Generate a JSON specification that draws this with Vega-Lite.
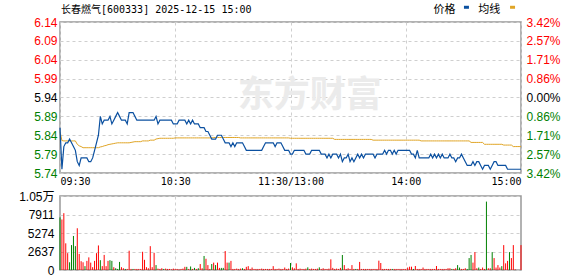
{
  "$schema": "https://vega.github.io/schema/vega-lite/v6.json",
  "background": "white",
  "padding": {"left": 17, "top": 2, "right": 0, "bottom": 0},
  "spacing": 23,
  "bounds": "flush",
  "config": {
    "font": "Liberation Sans",
    "view": {"stroke": "#999999", "strokeWidth": 1.5},
    "axis": {"gridColor": "#cfcfcf", "gridDash": [3, 3], "gridWidth": 1, "domain": false, "ticks": false, "title": null, "labelFont": "Liberation Sans", "labelFontSize": 12, "labelColor": "#000000"}
  },
  "datasets": {
    "m": [
{"t":0,"p":5.86,"a":5.85,"v":7500,"c":"d"},
{"t":1,"p":5.75,"a":5.826,"v":7200,"c":"u"},
{"t":2,"p":5.81,"a":5.825,"v":8100,"c":"u"},
{"t":3,"p":5.82,"a":5.825,"v":3800,"c":"u"},
{"t":4,"p":5.82,"a":5.825,"v":2400,"c":"u"},
{"t":5,"p":5.83,"a":5.825,"v":1100,"c":"d"},
{"t":6,"p":5.82,"a":5.825,"v":3550,"c":"d"},
{"t":7,"p":5.81,"a":5.825,"v":4850,"c":"d"},
{"t":8,"p":5.80,"a":5.825,"v":3400,"c":"d"},
{"t":9,"p":5.77,"a":5.816,"v":5950,"c":"u"},
{"t":10,"p":5.76,"a":5.812,"v":2300,"c":"u"},
{"t":11,"p":5.78,"a":5.810,"v":1250,"c":"u"},
{"t":12,"p":5.78,"a":5.807,"v":1100,"c":"u"},
{"t":13,"p":5.78,"a":5.807,"v":550,"c":"d"},
{"t":14,"p":5.78,"a":5.807,"v":1300,"c":"u"},
{"t":15,"p":5.77,"a":5.807,"v":1800,"c":"u"},
{"t":16,"p":5.77,"a":5.807,"v":1050,"c":"u"},
{"t":17,"p":5.78,"a":5.807,"v":400,"c":"u"},
{"t":18,"p":5.80,"a":5.807,"v":1300,"c":"u"},
{"t":19,"p":5.82,"a":5.807,"v":2400,"c":"u"},
{"t":20,"p":5.84,"a":5.807,"v":3500,"c":"u"},
{"t":21,"p":5.89,"a":5.809,"v":1400,"c":"d"},
{"t":22,"p":5.87,"a":5.810,"v":550,"c":"u"},
{"t":23,"p":5.88,"a":5.812,"v":2150,"c":"u"},
{"t":24,"p":5.88,"a":5.813,"v":550,"c":"u"},
{"t":25,"p":5.88,"a":5.815,"v":1300,"c":"u"},
{"t":26,"p":5.89,"a":5.816,"v":1400,"c":"d"},
{"t":27,"p":5.87,"a":5.817,"v":1300,"c":"d"},
{"t":28,"p":5.88,"a":5.818,"v":400,"c":"u"},
{"t":29,"p":5.89,"a":5.819,"v":250,"c":"d"},
{"t":30,"p":5.90,"a":5.820,"v":150,"c":"d"},
{"t":31,"p":5.89,"a":5.820,"v":1150,"c":"d"},
{"t":32,"p":5.88,"a":5.820,"v":400,"c":"u"},
{"t":33,"p":5.88,"a":5.820,"v":250,"c":"u"},
{"t":34,"p":5.88,"a":5.820,"v":150,"c":"d"},
{"t":35,"p":5.87,"a":5.820,"v":150,"c":"u"},
{"t":36,"p":5.90,"a":5.820,"v":2750,"c":"u"},
{"t":37,"p":5.90,"a":5.821,"v":150,"c":"u"},
{"t":38,"p":5.90,"a":5.822,"v":150,"c":"d"},
{"t":39,"p":5.89,"a":5.823,"v":150,"c":"u"},
{"t":40,"p":5.88,"a":5.823,"v":150,"c":"u"},
{"t":41,"p":5.88,"a":5.823,"v":150,"c":"u"},
{"t":42,"p":5.88,"a":5.823,"v":150,"c":"u"},
{"t":43,"p":5.88,"a":5.825,"v":2600,"c":"u"},
{"t":44,"p":5.88,"a":5.825,"v":1450,"c":"u"},
{"t":45,"p":5.88,"a":5.825,"v":400,"c":"u"},
{"t":46,"p":5.88,"a":5.825,"v":250,"c":"u"},
{"t":47,"p":5.88,"a":5.827,"v":3400,"c":"u"},
{"t":48,"p":5.88,"a":5.827,"v":400,"c":"u"},
{"t":49,"p":5.88,"a":5.827,"v":2450,"c":"u"},
{"t":50,"p":5.89,"a":5.830,"v":700,"c":"d"},
{"t":51,"p":5.87,"a":5.831,"v":200,"c":"u"},
{"t":52,"p":5.88,"a":5.832,"v":150,"c":"u"},
{"t":53,"p":5.88,"a":5.832,"v":250,"c":"u"},
{"t":54,"p":5.88,"a":5.832,"v":150,"c":"d"},
{"t":55,"p":5.88,"a":5.832,"v":200,"c":"u"},
{"t":56,"p":5.88,"a":5.832,"v":150,"c":"u"},
{"t":57,"p":5.88,"a":5.832,"v":150,"c":"u"},
{"t":58,"p":5.88,"a":5.832,"v":100,"c":"u"},
{"t":59,"p":5.87,"a":5.832,"v":200,"c":"u"},
{"t":60,"p":5.87,"a":5.833,"v":150,"c":"u"},
{"t":61,"p":5.87,"a":5.833,"v":150,"c":"u"},
{"t":62,"p":5.88,"a":5.833,"v":100,"c":"u"},
{"t":63,"p":5.88,"a":5.833,"v":150,"c":"u"},
{"t":64,"p":5.88,"a":5.833,"v":200,"c":"u"},
{"t":65,"p":5.88,"a":5.833,"v":450,"c":"u"},
{"t":66,"p":5.87,"a":5.833,"v":450,"c":"d"},
{"t":67,"p":5.88,"a":5.833,"v":150,"c":"u"},
{"t":68,"p":5.87,"a":5.833,"v":500,"c":"d"},
{"t":69,"p":5.88,"a":5.833,"v":150,"c":"u"},
{"t":70,"p":5.87,"a":5.833,"v":300,"c":"d"},
{"t":71,"p":5.87,"a":5.833,"v":150,"c":"u"},
{"t":72,"p":5.87,"a":5.833,"v":250,"c":"d"},
{"t":73,"p":5.86,"a":5.833,"v":850,"c":"u"},
{"t":74,"p":5.86,"a":5.833,"v":250,"c":"u"},
{"t":75,"p":5.86,"a":5.833,"v":2000,"c":"d"},
{"t":76,"p":5.85,"a":5.833,"v":1600,"c":"u"},
{"t":77,"p":5.85,"a":5.833,"v":700,"c":"u"},
{"t":78,"p":5.84,"a":5.833,"v":150,"c":"u"},
{"t":79,"p":5.83,"a":5.833,"v":850,"c":"d"},
{"t":80,"p":5.83,"a":5.834,"v":1050,"c":"u"},
{"t":81,"p":5.83,"a":5.834,"v":700,"c":"d"},
{"t":82,"p":5.84,"a":5.834,"v":1050,"c":"u"},
{"t":83,"p":5.84,"a":5.834,"v":300,"c":"u"},
{"t":84,"p":5.84,"a":5.834,"v":300,"c":"d"},
{"t":85,"p":5.83,"a":5.834,"v":300,"c":"d"},
{"t":86,"p":5.82,"a":5.834,"v":2700,"c":"u"},
{"t":87,"p":5.82,"a":5.834,"v":1050,"c":"u"},
{"t":88,"p":5.82,"a":5.834,"v":1050,"c":"d"},
{"t":89,"p":5.81,"a":5.834,"v":1300,"c":"u"},
{"t":90,"p":5.82,"a":5.834,"v":150,"c":"u"},
{"t":91,"p":5.81,"a":5.834,"v":150,"c":"u"},
{"t":92,"p":5.82,"a":5.834,"v":200,"c":"u"},
{"t":93,"p":5.82,"a":5.834,"v":150,"c":"u"},
{"t":94,"p":5.82,"a":5.833,"v":200,"c":"u"},
{"t":95,"p":5.82,"a":5.833,"v":250,"c":"d"},
{"t":96,"p":5.81,"a":5.833,"v":150,"c":"u"},
{"t":97,"p":5.80,"a":5.833,"v":450,"c":"u"},
{"t":98,"p":5.80,"a":5.833,"v":550,"c":"u"},
{"t":99,"p":5.80,"a":5.833,"v":150,"c":"u"},
{"t":100,"p":5.80,"a":5.833,"v":350,"c":"u"},
{"t":101,"p":5.80,"a":5.833,"v":150,"c":"u"},
{"t":102,"p":5.80,"a":5.833,"v":150,"c":"u"},
{"t":103,"p":5.80,"a":5.833,"v":150,"c":"u"},
{"t":104,"p":5.80,"a":5.833,"v":150,"c":"u"},
{"t":105,"p":5.80,"a":5.833,"v":200,"c":"u"},
{"t":106,"p":5.81,"a":5.833,"v":150,"c":"u"},
{"t":107,"p":5.82,"a":5.833,"v":150,"c":"u"},
{"t":108,"p":5.82,"a":5.833,"v":150,"c":"u"},
{"t":109,"p":5.82,"a":5.833,"v":150,"c":"u"},
{"t":110,"p":5.82,"a":5.833,"v":150,"c":"u"},
{"t":111,"p":5.82,"a":5.833,"v":550,"c":"u"},
{"t":112,"p":5.81,"a":5.833,"v":150,"c":"u"},
{"t":113,"p":5.82,"a":5.833,"v":150,"c":"u"},
{"t":114,"p":5.82,"a":5.833,"v":200,"c":"u"},
{"t":115,"p":5.82,"a":5.833,"v":150,"c":"u"},
{"t":116,"p":5.81,"a":5.833,"v":150,"c":"u"},
{"t":117,"p":5.80,"a":5.833,"v":350,"c":"u"},
{"t":118,"p":5.80,"a":5.833,"v":150,"c":"u"},
{"t":119,"p":5.80,"a":5.833,"v":200,"c":"u"},
{"t":120,"p":5.79,"a":5.832,"v":1000,"c":"d"},
{"t":121,"p":5.79,"a":5.832,"v":380,"c":"u"},
{"t":122,"p":5.80,"a":5.832,"v":240,"c":"u"},
{"t":123,"p":5.80,"a":5.832,"v":950,"c":"u"},
{"t":124,"p":5.80,"a":5.832,"v":150,"c":"u"},
{"t":125,"p":5.80,"a":5.832,"v":200,"c":"u"},
{"t":126,"p":5.80,"a":5.832,"v":150,"c":"u"},
{"t":127,"p":5.80,"a":5.832,"v":150,"c":"u"},
{"t":128,"p":5.79,"a":5.832,"v":200,"c":"u"},
{"t":129,"p":5.79,"a":5.832,"v":380,"c":"d"},
{"t":130,"p":5.79,"a":5.832,"v":150,"c":"u"},
{"t":131,"p":5.80,"a":5.832,"v":200,"c":"u"},
{"t":132,"p":5.80,"a":5.832,"v":150,"c":"u"},
{"t":133,"p":5.80,"a":5.832,"v":150,"c":"u"},
{"t":134,"p":5.80,"a":5.832,"v":200,"c":"u"},
{"t":135,"p":5.80,"a":5.832,"v":380,"c":"d"},
{"t":136,"p":5.79,"a":5.832,"v":150,"c":"u"},
{"t":137,"p":5.79,"a":5.832,"v":250,"c":"u"},
{"t":138,"p":5.79,"a":5.832,"v":150,"c":"u"},
{"t":139,"p":5.78,"a":5.832,"v":150,"c":"u"},
{"t":140,"p":5.79,"a":5.832,"v":200,"c":"u"},
{"t":141,"p":5.78,"a":5.832,"v":1520,"c":"u"},
{"t":142,"p":5.79,"a":5.832,"v":300,"c":"u"},
{"t":143,"p":5.79,"a":5.829,"v":150,"c":"u"},
{"t":144,"p":5.79,"a":5.829,"v":200,"c":"u"},
{"t":145,"p":5.78,"a":5.829,"v":150,"c":"u"},
{"t":146,"p":5.79,"a":5.829,"v":300,"c":"u"},
{"t":147,"p":5.77,"a":5.829,"v":2140,"c":"d"},
{"t":148,"p":5.78,"a":5.829,"v":700,"c":"u"},
{"t":149,"p":5.78,"a":5.829,"v":150,"c":"u"},
{"t":150,"p":5.79,"a":5.829,"v":250,"c":"u"},
{"t":151,"p":5.77,"a":5.829,"v":150,"c":"u"},
{"t":152,"p":5.78,"a":5.829,"v":700,"c":"u"},
{"t":153,"p":5.77,"a":5.829,"v":150,"c":"u"},
{"t":154,"p":5.78,"a":5.829,"v":150,"c":"d"},
{"t":155,"p":5.79,"a":5.829,"v":150,"c":"u"},
{"t":156,"p":5.78,"a":5.829,"v":1150,"c":"u"},
{"t":157,"p":5.79,"a":5.829,"v":150,"c":"u"},
{"t":158,"p":5.78,"a":5.829,"v":150,"c":"u"},
{"t":159,"p":5.79,"a":5.829,"v":150,"c":"u"},
{"t":160,"p":5.79,"a":5.829,"v":150,"c":"u"},
{"t":161,"p":5.79,"a":5.829,"v":150,"c":"u"},
{"t":162,"p":5.79,"a":5.829,"v":150,"c":"u"},
{"t":163,"p":5.79,"a":5.827,"v":150,"c":"u"},
{"t":164,"p":5.78,"a":5.827,"v":150,"c":"u"},
{"t":165,"p":5.79,"a":5.827,"v":150,"c":"u"},
{"t":166,"p":5.79,"a":5.827,"v":1330,"c":"u"},
{"t":167,"p":5.79,"a":5.827,"v":1000,"c":"u"},
{"t":168,"p":5.79,"a":5.827,"v":150,"c":"u"},
{"t":169,"p":5.80,"a":5.827,"v":150,"c":"u"},
{"t":170,"p":5.79,"a":5.827,"v":150,"c":"u"},
{"t":171,"p":5.80,"a":5.827,"v":150,"c":"u"},
{"t":172,"p":5.80,"a":5.827,"v":150,"c":"u"},
{"t":173,"p":5.79,"a":5.827,"v":150,"c":"d"},
{"t":174,"p":5.80,"a":5.827,"v":150,"c":"u"},
{"t":175,"p":5.79,"a":5.827,"v":150,"c":"u"},
{"t":176,"p":5.80,"a":5.827,"v":150,"c":"u"},
{"t":177,"p":5.80,"a":5.827,"v":150,"c":"u"},
{"t":178,"p":5.80,"a":5.827,"v":150,"c":"u"},
{"t":179,"p":5.80,"a":5.827,"v":150,"c":"u"},
{"t":180,"p":5.80,"a":5.827,"v":150,"c":"u"},
{"t":181,"p":5.80,"a":5.827,"v":350,"c":"u"},
{"t":182,"p":5.80,"a":5.827,"v":470,"c":"u"},
{"t":183,"p":5.79,"a":5.827,"v":470,"c":"u"},
{"t":184,"p":5.79,"a":5.827,"v":150,"c":"d"},
{"t":185,"p":5.78,"a":5.827,"v":570,"c":"u"},
{"t":186,"p":5.80,"a":5.827,"v":150,"c":"u"},
{"t":187,"p":5.78,"a":5.827,"v":150,"c":"u"},
{"t":188,"p":5.78,"a":5.825,"v":150,"c":"u"},
{"t":189,"p":5.78,"a":5.825,"v":350,"c":"u"},
{"t":190,"p":5.78,"a":5.825,"v":150,"c":"u"},
{"t":191,"p":5.78,"a":5.825,"v":150,"c":"u"},
{"t":192,"p":5.78,"a":5.825,"v":150,"c":"u"},
{"t":193,"p":5.79,"a":5.825,"v":150,"c":"u"},
{"t":194,"p":5.78,"a":5.825,"v":150,"c":"u"},
{"t":195,"p":5.79,"a":5.825,"v":150,"c":"u"},
{"t":196,"p":5.78,"a":5.825,"v":570,"c":"u"},
{"t":197,"p":5.79,"a":5.825,"v":150,"c":"u"},
{"t":198,"p":5.78,"a":5.825,"v":150,"c":"u"},
{"t":199,"p":5.79,"a":5.825,"v":150,"c":"u"},
{"t":200,"p":5.78,"a":5.825,"v":150,"c":"u"},
{"t":201,"p":5.78,"a":5.825,"v":150,"c":"u"},
{"t":202,"p":5.78,"a":5.825,"v":250,"c":"u"},
{"t":203,"p":5.79,"a":5.825,"v":250,"c":"u"},
{"t":204,"p":5.78,"a":5.825,"v":150,"c":"d"},
{"t":205,"p":5.78,"a":5.825,"v":150,"c":"u"},
{"t":206,"p":5.77,"a":5.825,"v":250,"c":"u"},
{"t":207,"p":5.78,"a":5.825,"v":700,"c":"d"},
{"t":208,"p":5.78,"a":5.825,"v":350,"c":"d"},
{"t":209,"p":5.79,"a":5.825,"v":150,"c":"u"},
{"t":210,"p":5.78,"a":5.825,"v":150,"c":"u"},
{"t":211,"p":5.77,"a":5.825,"v":250,"c":"u"},
{"t":212,"p":5.76,"a":5.825,"v":150,"c":"d"},
{"t":213,"p":5.76,"a":5.825,"v":1700,"c":"d"},
{"t":214,"p":5.76,"a":5.821,"v":2140,"c":"d"},
{"t":215,"p":5.77,"a":5.821,"v":1050,"c":"u"},
{"t":216,"p":5.76,"a":5.821,"v":2550,"c":"u"},
{"t":217,"p":5.77,"a":5.821,"v":250,"c":"u"},
{"t":218,"p":5.77,"a":5.821,"v":350,"c":"d"},
{"t":219,"p":5.76,"a":5.821,"v":150,"c":"u"},
{"t":220,"p":5.75,"a":5.821,"v":350,"c":"u"},
{"t":221,"p":5.76,"a":5.816,"v":150,"c":"u"},
{"t":222,"p":5.76,"a":5.816,"v":9750,"c":"d"},
{"t":223,"p":5.76,"a":5.816,"v":250,"c":"u"},
{"t":224,"p":5.75,"a":5.816,"v":250,"c":"u"},
{"t":225,"p":5.76,"a":5.816,"v":2550,"c":"d"},
{"t":226,"p":5.77,"a":5.816,"v":1700,"c":"u"},
{"t":227,"p":5.77,"a":5.816,"v":350,"c":"u"},
{"t":228,"p":5.76,"a":5.816,"v":700,"c":"u"},
{"t":229,"p":5.76,"a":5.816,"v":350,"c":"u"},
{"t":230,"p":5.76,"a":5.816,"v":550,"c":"d"},
{"t":231,"p":5.76,"a":5.814,"v":3550,"c":"u"},
{"t":232,"p":5.76,"a":5.814,"v":950,"c":"u"},
{"t":233,"p":5.75,"a":5.814,"v":1300,"c":"u"},
{"t":234,"p":5.75,"a":5.814,"v":2550,"c":"d"},
{"t":235,"p":5.75,"a":5.814,"v":1700,"c":"u"},
{"t":236,"p":5.75,"a":5.810,"v":3550,"c":"u"},
{"t":237,"p":5.75,"a":5.810,"v":100,"c":"u"},
{"t":238,"p":5.75,"a":5.810,"v":0,"c":"u"},
{"t":239,"p":5.75,"a":5.810,"v":0,"c":"u"},
{"t":240,"p":5.75,"a":5.810,"v":3550,"c":"u"}
    ],
    "wm": [{"label": "东方财富"}],
    "lg": [
      {"series": "价格", "x0": 194.4, "x1": 210.3, "x2": 212.9},
      {"series": "均线", "x0": 217.8, "x1": 234.3, "x2": 236.9}
    ]
  },
  "resolve": {"scale": {"color": "independent", "x": "independent", "y": "independent"}},
  "vconcat": [
    {
      "width": 461,
      "height": 151,
      "title": {"text": "长春燃气[600333] 2025-12-15 15:00", "anchor": "start", "frame": "group", "font": "DejaVu Sans Mono, Noto Sans CJK SC", "fontSize": 10, "fontWeight": "normal", "color": "#000000", "offset": -19.8, "baseline": "alphabetic", "dx": 1},
      "layer": [
        {
          "data": {"name": "wm"},
          "mark": {"type": "text", "font": "Noto Sans CJK SC", "fontSize": 36, "fontWeight": "bold", "color": "#ebebeb", "baseline": "middle", "align": "center"},
          "encoding": {
            "text": {"field": "label"},
            "x": {"datum": 130, "type": "quantitative", "scale": {"domain": [0, 240], "nice": false, "zero": false}, "axis": {"values": [0, 60, 120, 180, 240], "labelExpr": "['09:30','10:30','11:30/13:00','14:00','15:00'][round(datum.value/60)]", "labelFlush": true, "grid": true, "labelFont": "DejaVu Sans Mono", "labelFontSize": 10, "labelPadding": 3}},
            "y": {"datum": 5.944, "type": "quantitative", "scale": {"domain": [5.74, 6.14], "nice": false, "zero": false}, "axis": null}
          }
        },
        {
          "data": {"name": "m"},
          "mark": {"type": "line", "strokeWidth": 1, "interpolate": "linear", "color": "#e0a526"},
          "encoding": {
            "x": {"field": "t", "type": "quantitative", "scale": {"domain": [0, 240], "nice": false, "zero": false}, "axis": {"values": [0, 60, 120, 180, 240], "labelExpr": "['09:30','10:30','11:30/13:00','14:00','15:00'][round(datum.value/60)]", "labelFlush": true, "grid": true, "labelFont": "DejaVu Sans Mono", "labelFontSize": 10, "labelPadding": 3}},
            "y": {"field": "a", "type": "quantitative", "scale": {"domain": [5.74, 6.14], "nice": false, "zero": false}, "axis": {"orient": "right", "values": [5.74, 5.79, 5.84, 5.89, 5.94, 5.99, 6.04, 6.09, 6.14], "labelExpr": "['3.42','2.57','1.71','0.86','0.00','0.86','1.71','2.57','3.42'][round((6.14-datum.value)/0.05)] + '%'", "labelPadding": 5, "grid": false, "labelColor": {"condition": [{"test": "datum.value > 5.945", "value": "#ff0000"}, {"test": "datum.value < 5.935", "value": "#008000"}], "value": "#000000"}}}
          }
        },
        {
          "data": {"name": "m"},
          "mark": {"type": "line", "strokeWidth": 1.2, "interpolate": "linear", "color": "#0b50a0"},
          "encoding": {
            "x": {"field": "t", "type": "quantitative", "scale": {"domain": [0, 240], "nice": false, "zero": false}, "axis": {"values": [0, 60, 120, 180, 240], "labelExpr": "['09:30','10:30','11:30/13:00','14:00','15:00'][round(datum.value/60)]", "labelFlush": true, "grid": true, "labelFont": "DejaVu Sans Mono", "labelFontSize": 10, "labelPadding": 3}},
            "y": {"field": "p", "type": "quantitative", "scale": {"domain": [5.74, 6.14], "nice": false, "zero": false}, "axis": {"orient": "left", "values": [5.74, 5.79, 5.84, 5.89, 5.94, 5.99, 6.04, 6.09, 6.14], "format": ".2f", "labelPadding": 3, "grid": true, "labelColor": {"condition": [{"test": "datum.value > 5.945", "value": "#ff0000"}, {"test": "datum.value < 5.935", "value": "#008000"}], "value": "#000000"}}}
          }
        },
        {
          "data": {"name": "lg"},
          "mark": {"type": "text", "font": "Noto Sans CJK SC", "fontSize": 11, "align": "left", "baseline": "middle", "color": "#000000"},
          "encoding": {
            "text": {"field": "series"},
            "x": {"field": "x0", "type": "quantitative", "scale": {"domain": [0, 240], "nice": false, "zero": false}},
            "y": {"datum": 6.173, "type": "quantitative", "scale": {"domain": [5.74, 6.14], "nice": false, "zero": false}, "axis": null}
          }
        },
        {
          "data": {"name": "lg"},
          "mark": {"type": "rule", "strokeWidth": 3},
          "encoding": {
            "x": {"field": "x1", "type": "quantitative", "scale": {"domain": [0, 240], "nice": false, "zero": false}},
            "x2": {"field": "x2"},
            "y": {"datum": 6.179, "type": "quantitative", "scale": {"domain": [5.74, 6.14], "nice": false, "zero": false}, "axis": null},
            "color": {"field": "series", "type": "nominal", "scale": {"domain": ["价格", "均线"], "range": ["#0b50a0", "#e0a526"]}, "legend": null}
          }
        }
      ],
      "resolve": {"axis": {"y": "independent"}}
    },
    {
      "width": 461,
      "height": 74,
      "data": {"name": "m"},
      "mark": {"type": "rule", "strokeWidth": 1},
      "encoding": {
        "x": {"field": "t", "type": "quantitative", "scale": {"domain": [0, 240], "nice": false, "zero": false}, "axis": {"values": [60, 120, 180], "labels": false, "grid": true}},
        "y": {"field": "v", "type": "quantitative", "scale": {"domain": [0, 10548], "nice": false}, "axis": {"values": [0, 2637, 5274, 7911, 10548], "format": "d", "labelExpr": "datum.value >= 10000 ? '1.05万' : datum.label", "labelFont": "Liberation Sans, Noto Sans CJK SC", "labelPadding": 6, "grid": true}},
        "y2": {"datum": 0},
        "color": {"field": "c", "type": "nominal", "scale": {"domain": ["u", "d"], "range": ["#ff0000", "#008000"]}, "legend": null}
      }
    }
  ]
}
